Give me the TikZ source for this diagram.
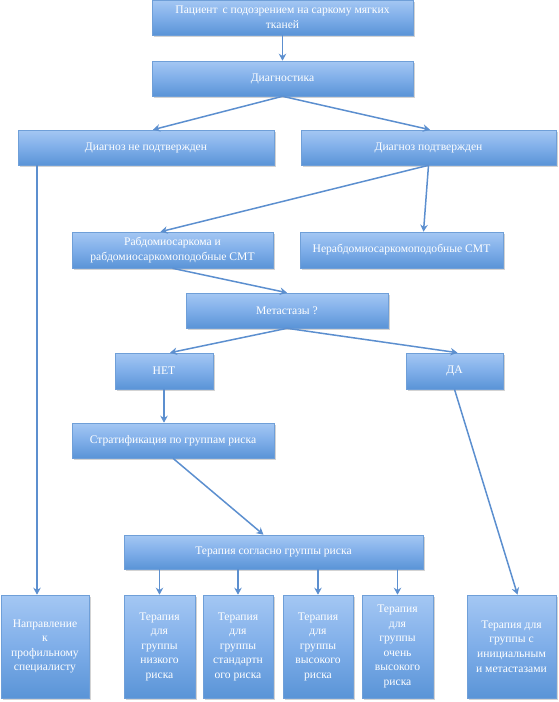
\documentclass[tikz,border=0pt]{standalone}
\usepackage{fontspec}
\setmainfont{Liberation Serif}
\usepackage{xcolor}
\usepackage{tikz}
\usetikzlibrary{arrows.meta, positioning, calc, shadows}
\definecolor{boxtop}{HTML}{A4C7F3}
\definecolor{boxmid}{HTML}{7FAEE9}
\definecolor{boxbot}{HTML}{5A94D7}
\definecolor{boxline}{HTML}{6F9FD8}
\definecolor{freccia}{HTML}{5C8FCF}
\tikzset{
    blocco/.style={draw=boxline, line width=0.6pt, top color=boxtop, bottom color=boxbot, middle color=boxmid,
        text=white, align=center, inner sep=2pt, font=\fontsize{11.6}{14.5}\selectfont,
        drop shadow={opacity=0.35, shadow xshift=1.5pt, shadow yshift=-1.5pt}},
    freccia/.style={draw=freccia, line width=1.5pt, -{Stealth[length=7pt, width=7.5pt]}}
}

\begin{document}
\begin{tikzpicture}[x=1pt, y=-1pt]
    \useasboundingbox (0,0) rectangle (558,702);

    % Blocchi superiori
    \node[blocco, minimum width=261pt, minimum height=35pt] (paz) at (282.5,17.5) {Пациент\, с подозрением на саркому мягких\\тканей};
    \node[blocco, minimum width=261pt, minimum height=35pt] (diag) at (282.5,78.5) {Диагностика};
    \node[blocco, minimum width=256pt, minimum height=35pt] (dnp) at (146,147.5) {Диагноз не подтвержден};
    \node[blocco, minimum width=255pt, minimum height=35pt] (dp) at (428.5,147.5) {Диагноз подтвержден};
    \node[blocco, minimum width=201pt, minimum height=36pt] (rabdo) at (172.5,250) {Рабдомиосаркома и\\рабдомиосаркомоподобные СМТ};
    \node[blocco, minimum width=203pt, minimum height=36pt] (nerabdo) at (401.5,250) {Нерабдомиосаркомоподобные СМТ};
    \node[blocco, minimum width=202pt, minimum height=35pt] (metas) at (287,310.5) {Метастазы ?};
    \node[blocco, minimum width=98pt, minimum height=36pt] (net) at (164,371) {НЕТ};
    \node[blocco, minimum width=97pt, minimum height=36pt] (da) at (454.5,371) {ДА};
    \node[blocco, minimum width=202pt, minimum height=35pt] (strat) at (173,440.5) {Стратификация по группам риска};
    \node[blocco, minimum width=299pt, minimum height=34pt] (ter) at (273.5,552) {Терапия согласно группы риска};

    % Blocchi inferiori
    \node[blocco, minimum width=88pt, minimum height=103pt] (napr) at (45,646.5) {Направление\\к\\профильному\\специалисту};
    \node[blocco, minimum width=71pt, minimum height=103pt] (t1) at (159.5,646.5) {Терапия\\для\\группы\\низкого\\риска};
    \node[blocco, minimum width=70pt, minimum height=103pt] (t2) at (238,646.5) {Терапия\\для\\группы\\стандартн\\ого риска};
    \node[blocco, minimum width=70pt, minimum height=103pt] (t3) at (318,646.5) {Терапия\\для\\группы\\высокого\\риска};
    \node[blocco, minimum width=71pt, minimum height=103pt] (t4) at (397.5,646.5) {Терапия\\для\\группы\\очень\\высокого\\риска};
    \node[blocco, minimum width=89pt, minimum height=103pt] (t5) at (511.5,646.5) {Терапия для\\группы с\\инициальным\\и метастазами};

    % Frecce
    \draw[freccia] (paz) -- (diag);
    \draw[freccia] (diag.south) -- ([xshift=7pt]dnp.north);
    \draw[freccia] (diag.south) -- ([xshift=1.5pt]dp.north);
    \coordinate (pn) at ([xshift=-8pt]napr.north);
    \draw[freccia] (pn |- dnp.south) -- (pn);
    \draw[freccia] (dp.south) -- ([xshift=-12pt]rabdo.north);
    \draw[freccia] (dp.south) -- ([xshift=22pt]nerabdo.north);
    \draw[freccia] (rabdo.south) -- (metas.north);
    \draw[freccia] (metas.south) -- ([xshift=6pt]net.north);
    \draw[freccia] (metas.south) -- ([xshift=3pt]da.north);
    \draw[freccia] (net.south) -- (net.south |- strat.north);
    \draw[freccia] (strat.south) -- ([xshift=-10pt]ter.north);
    \draw[freccia] (da.south) -- ([xshift=6pt]t5.north);
    \foreach \t in {t1, t2, t3, t4}{
        \draw[freccia] (ter.south -| \t.north) -- (\t.north);
    }
\end{tikzpicture}
\end{document}
